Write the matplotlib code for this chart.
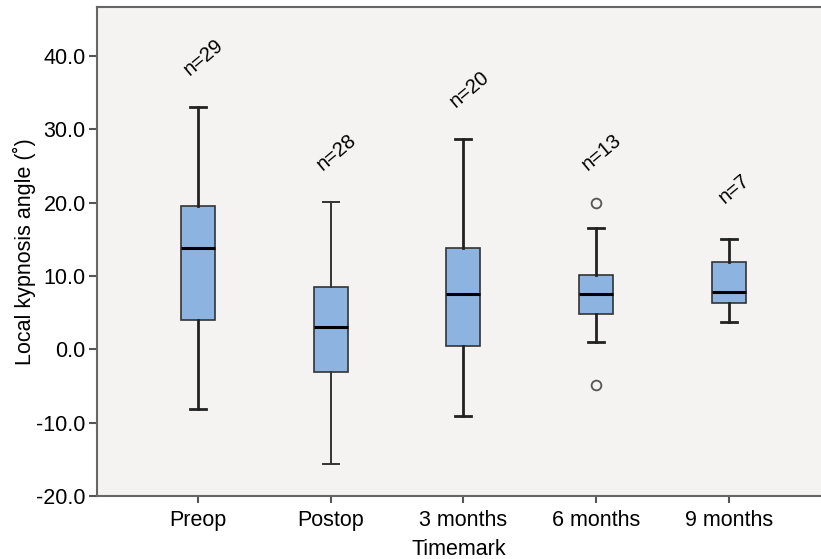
import numpy as np
import matplotlib.pyplot as plt

plt.rcParams['font.family'] = ['Liberation Sans', 'DejaVu Sans']

# data
groups = ['Preop', 'Postop', '3 months', '6 months', '9 months']
n_obs = [29, 28, 20, 13, 7]
whislo = [-8.2, -15.7, -9.1, 0.95, 3.7]
q1 = [4.0, -3.1, 0.4, 4.8, 6.3]
med = [13.8, 3.1, 7.6, 7.5, 7.8]
q3 = [19.6, 8.5, 13.8, 10.1, 11.9]
whishi = [33.0, 20.1, 28.7, 16.5, 15.1]
fliers = [[], [], [], [20.0, -4.8], []]

stats = []
for i in range(len(groups)):
    stats.append({'label': groups[i], 'whislo': whislo[i], 'q1': q1[i], 'med': med[i],
                  'q3': q3[i], 'whishi': whishi[i], 'fliers': fliers[i]})

fig = plt.figure(figsize=(8.21, 5.59), dpi=100)
ax = fig.add_axes([0.118, 0.1127, 0.882, 0.875])
ax.set_facecolor('#f4f3f1')

pos = np.arange(1, len(groups) + 1)
bp = ax.bxp(stats, positions=pos, widths=0.256, capwidths=0.12, patch_artist=True,
            boxprops=dict(facecolor='#8db3e0', edgecolor='#333333', linewidth=1.2),
            medianprops=dict(color='black', linewidth=2.2),
            whiskerprops=dict(color='#222222', linewidth=2.0),
            capprops=dict(color='#222222', linewidth=2.0),
            flierprops=dict(marker='o', markerfacecolor='none', markeredgecolor='#555555',
                            markersize=7, markeredgewidth=1.3))

# Postop whisker drawn thinner in the original
for art in bp['whiskers'][2:4] + bp['caps'][2:4]:
    art.set_linewidth(1.4)
    art.set_color('#333333')

# n labels above each box
for i in range(len(groups)):
    top = max([whishi[i]] + fliers[i])
    ax.annotate('n=%d' % n_obs[i], (pos[i], top), xytext=(4, 36), textcoords='offset points',
                ha='center', va='center', rotation=40, rotation_mode='anchor', fontsize=14.5)

ax.set_xlim(0.239, 5.693)
ax.set_ylim(-20, 46.7)
ax.set_yticks(np.arange(-20, 41, 10))
ax.set_yticklabels(['%.1f' % v for v in np.arange(-20, 41, 10)])
ax.set_xticks(pos)
ax.set_xticklabels(groups)
ax.tick_params(axis='both', labelsize=15.5, color='#555555', width=1.5)
ax.tick_params(axis='y', length=6, pad=2)
ax.tick_params(axis='x', length=5, pad=5)

for s in ['left', 'bottom', 'top']:
    ax.spines[s].set_color('#666666')
    ax.spines[s].set_linewidth(1.5)
ax.spines['right'].set_visible(False)

ax.set_xlabel('Timemark', fontsize=15.5, labelpad=6)
ax.set_ylabel('Local kypnosis angle (\u02da)', fontsize=15.5, labelpad=0)

plt.savefig('out.png', dpi=100)
